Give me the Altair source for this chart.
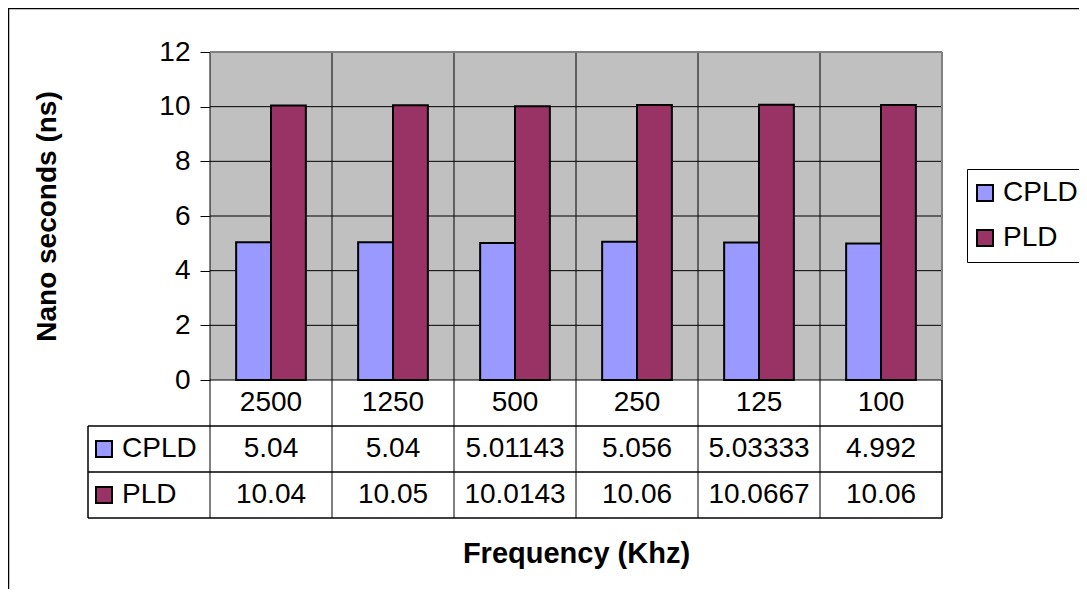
import altair as alt
import pandas as pd

# ---------------- data ----------------
categories = ["2500", "1250", "500", "250", "125", "100"]
series = ["CPLD", "PLD"]
cpld_values = [5.04, 5.04, 5.01143, 5.056, 5.03333, 4.992]
pld_values = [10.04, 10.05, 10.0143, 10.06, 10.0667, 10.06]
y_ticks = [0, 2, 4, 6, 8, 10, 12]
colors = ["#9999FF", "#993366"]

FONT = "Liberation Sans"
values_by_series = {"CPLD": cpld_values, "PLD": pld_values}

# ---------------- geometry (in scale units) ----------------
n = len(categories)
Y_MAX = 12
PLOT_PX = 328          # height of the bar area
ROW_PX = 46            # height of one table row
COL_PX = 122           # width of one category column
R = ROW_PX * Y_MAX / PLOT_PX      # table row height in y units
Y_MIN = -3 * R
W = COL_PX * (n + 1)
H = PLOT_PX + 3 * ROW_PX
GAP = 1.5                          # Excel-like gap width
bw = 1.0 / (len(series) + GAP)

# bars
bar_rows = []
for i, cat in enumerate(categories):
    for k, s in enumerate(series):
        x0 = i + GAP / 2 * bw + k * bw
        bar_rows.append({"x": x0, "x2": x0 + bw, "y": 0.0,
                         "y2": values_by_series[s][i], "series": s})
bars_df = pd.DataFrame(bar_rows)

# table cell texts
cell_rows = []
for i, cat in enumerate(categories):
    cell_rows.append({"x": i + 0.5, "y": -0.5 * R, "label": cat})
    for k, s in enumerate(series):
        cell_rows.append({"x": i + 0.5, "y": -(k + 1.5) * R,
                          "label": str(values_by_series[s][i])})
cells_df = pd.DataFrame(cell_rows)

rowlab_df = pd.DataFrame({"x": [-1.0] * len(series),
                          "y": [-(k + 1.5) * R for k in range(len(series))],
                          "series": series})

# lines
grid_rows = [{"x": 0, "x2": n, "y": t, "y2": t} for t in y_ticks if 0 <= t < Y_MAX]
grid_rows += [{"x": i, "x2": i, "y": Y_MIN, "y2": Y_MAX} for i in range(0, n)]
grid_df = pd.DataFrame(grid_rows)

table_rows = [{"x": -1, "x2": n, "y": -(k + 1) * R, "y2": -(k + 1) * R} for k in range(3)]
table_rows += [{"x": -1, "x2": -1, "y": Y_MIN, "y2": -R},
               {"x": n, "x2": n, "y": Y_MIN, "y2": 0}]
table_df = pd.DataFrame(table_rows)

border_df = pd.DataFrame([{"x": 0, "x2": n, "y": Y_MAX, "y2": Y_MAX},
                          {"x": n, "x2": n, "y": 0, "y2": Y_MAX}])

bg_df = pd.DataFrame([{"x": 0, "x2": n, "y": 0, "y2": Y_MAX}])

# ---------------- scales / axes ----------------
xscale = alt.Scale(domain=[-1, n], nice=False, zero=False)
yscale = alt.Scale(domain=[Y_MIN, Y_MAX], nice=False, zero=False)

xaxis = alt.Axis(title="Frequency (Khz)", labels=False, ticks=False, domain=False,
                 grid=False, titleFont=FONT, titleFontSize=29, titleFontWeight="bold",
                 titleColor="black", titleX=488, titleY=35, titleBaseline="middle",
                 titleAlign="center")
yaxis = alt.Axis(title="Nano seconds (ns)", values=y_ticks, offset=-COL_PX,
                 domain=False, grid=False, ticks=True, tickSize=10, tickColor="black",
                 tickWidth=1, labelFont=FONT, labelFontSize=28, labelColor="black",
                 labelPadding=10, titleFont=FONT, titleFontSize=28,
                 titleFontWeight="bold", titleColor="black", titleX=-163, titleY=164,
                 titleAngle=270, titleBaseline="middle", titleAlign="center")


def X(f):
    return alt.X(f, type="quantitative", scale=xscale, axis=xaxis)


def Y(f):
    return alt.Y(f, type="quantitative", scale=yscale, axis=yaxis)


legend = alt.Legend(orient="none", legendX=879, legendY=117, direction="vertical",
                    title=None, strokeColor="black", fillColor="white", padding=10,
                    labelFont=FONT, labelFontSize=28, labelColor="black",
                    symbolType="square", symbolSize=256, symbolStrokeColor="black",
                    symbolStrokeWidth=2, symbolOffset=-6, rowPadding=17, labelOffset=4,
                    labelLimit=300)
color = alt.Color("series:N", scale=alt.Scale(domain=series, range=colors), legend=legend)

# ---------------- layers ----------------
bg = alt.Chart(bg_df).mark_rect(fill="#C0C0C0").encode(
    x=X("x"), x2="x2", y=Y("y"), y2="y2")

grid = alt.Chart(grid_df).mark_rule(color="black", strokeWidth=1).encode(
    x=X("x"), x2="x2", y=Y("y"), y2="y2")

border = alt.Chart(border_df).mark_rule(color="#808080", strokeWidth=2).encode(
    x=X("x"), x2="x2", y=Y("y"), y2="y2")

table = alt.Chart(table_df).mark_rule(color="black", strokeWidth=1.5).encode(
    x=X("x"), x2="x2", y=Y("y"), y2="y2")

bars = alt.Chart(bars_df).mark_rect(stroke="black", strokeWidth=2).encode(
    x=X("x"), x2="x2", y=Y("y"), y2="y2", color=color)

cells = alt.Chart(cells_df).mark_text(font=FONT, fontSize=28, color="black",
                                      baseline="middle", align="center").encode(
    x=X("x"), y=Y("y"), text="label:N")

row_sq = alt.Chart(rowlab_df).mark_square(size=256, stroke="black", strokeWidth=2,
                                          filled=True, opacity=1, xOffset=16).encode(
    x=X("x"), y=Y("y"), color=color)

row_txt = alt.Chart(rowlab_df).mark_text(font=FONT, fontSize=28, color="black",
                                         baseline="middle", align="left", dx=34).encode(
    x=X("x"), y=Y("y"), text="series:N")

frame = alt.Chart(pd.DataFrame({"a": [0]})).mark_rect(
    fillOpacity=0, stroke="black", strokeWidth=1.5, clip=False).encode(
    x=alt.value(-79.5), x2=alt.value(3000), y=alt.value(-43.5), y2=alt.value(3000))

chart = alt.layer(frame, bg, grid, border, table, bars, cells, row_sq, row_txt).properties(
    width=W, height=H, autosize="none",
    padding={"left": 80, "top": 44, "right": 1071 - 80 - W, "bottom": 581 - 44 - H},
    background="white",
).configure_view(stroke=None)

chart.save("out.html", embed_options={"renderer": "svg", "actions": False})
